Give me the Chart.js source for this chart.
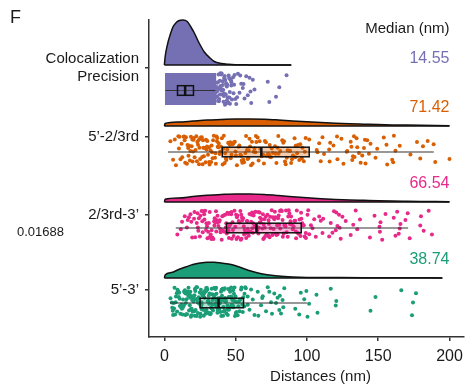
<!DOCTYPE html>
<html>
<head>
<meta charset="utf-8">
<script src="https://cdn.jsdelivr.net/npm/chart.js@4.4.1/dist/chart.umd.min.js"></script>
<style>
  html, body { margin: 0; padding: 0; background: #fff; }
</style>
</head>
<body>
<canvas id="chart" width="469" height="387"></canvas>
<script>
  'use strict';

  // ─── Data ────────────────────────────────────────────────────────────────

  const groupLabels = [['Colocalization', 'Precision'], ['5’-2/3rd'], ['2/3rd-3’'], ['5’-3’']];
  const medianLabels = ['14.55', '71.42', '66.54', '38.74'];
  const colors = ['#7570b3', '#d95f02', '#e7298a', '#1b9e77'];
  const xTicks = [0, 50, 100, 150, 200];

  // box stats in nm: [lower whisker, q1, median, q3, upper whisker]
  const boxColoc = [0.8, 9.2, 14.55, 20.4, 35.7];
  const boxFirst = [2.5, 40.6, 68, 101.6, 189];
  const boxSecond = [8, 43.6, 64.6, 96, 171];
  const boxWhole = [4, 25, 38, 55.5, 100];

  // half-violin densities (x in nm, height in axis units)
  const colocDensX = [0, 0.5, 2.4, 4, 6, 8, 10, 13, 16, 19, 21, 24, 28, 32, 35, 40, 45, 50, 60, 75, 89];
  const colocDensH = [0, 0.8, 2.2, 3.0, 3.8, 4.2, 4.42, 4.5, 4.35, 3.7, 3.2, 2.3, 1.3, 0.7, 0.35, 0.15, 0.07, 0.03, 0.01, 0, 0];
  const firstDensX = [0, 0.5, 10, 20, 30, 40, 50, 60, 70, 80, 90, 100, 110, 120, 130, 140, 150, 160, 170, 180, 190, 200];
  const firstDensH = [0, 0.25, 0.4, 0.5, 0.6, 0.65, 0.7, 0.7, 0.68, 0.6, 0.5, 0.42, 0.35, 0.28, 0.22, 0.18, 0.14, 0.11, 0.09, 0.07, 0.05, 0.03];
  const secondDensX = [0, 0.5, 10, 20, 30, 40, 50, 60, 70, 80, 90, 100, 110, 120, 130, 140, 150, 160, 170, 180, 190, 200];
  const secondDensH = [0, 0.27, 0.4, 0.55, 0.67, 0.75, 0.8, 0.8, 0.75, 0.65, 0.53, 0.42, 0.33, 0.26, 0.21, 0.17, 0.13, 0.1, 0.08, 0.06, 0.04, 0.02];
  const wholeDensX = [0, 0.5, 5, 10, 15, 20, 25, 30, 35, 40, 45, 50, 55, 60, 65, 70, 75, 80, 90, 100, 120, 140, 160, 180, 195];
  const wholeDensH = [0, 0.3, 0.55, 0.85, 1.1, 1.35, 1.5, 1.58, 1.58, 1.5, 1.4, 1.23, 0.98, 0.72, 0.52, 0.38, 0.28, 0.2, 0.11, 0.06, 0.04, 0.03, 0.03, 0.02, 0.01];

  // colocalization precision: the bulk of points forms a solid block over this range (nm)
  const colocDenseRange = [0.3, 36.5];
  // colocalization points outside the solid block (nm)
  const colocPoints = [37.5, 38.2, 39.1, 39.8, 40.6, 41.3, 42.1, 42.8, 43.6, 44.3, 45.1, 45.9, 46.7, 47.4,
    38.6, 40.2, 41.8, 43.3, 44.9, 46.2, 36.9, 39.4, 42.5, 48.2, 37.2, 40.9, 43.9,
    49.2, 52.7, 55.0, 56.2, 53.9, 57.4, 60.9, 63.2, 62.0, 58.5, 51.6, 49.8, 46.9, 60.4,
    59.7, 73.6, 72.5, 78.3, 80.6, 85.7, 50.4, 55.5, 48.5,
    34.8, 35.6, 36.3, 37.9, 38.9, 39.6, 40.1, 41.0, 41.7, 42.3, 43.0, 43.8, 44.6, 45.4,
    36.1, 37.0, 38.4, 39.3, 40.4, 41.5, 42.7, 44.0, 45.6, 47.0, 35.3, 36.6, 38.0, 39.0,
    40.7, 42.0, 46.0, 48.9, 51.0, 53.2];

  // 5'-2/3rd distances (nm)
  const firstPoints = [4.2, 12.5, 27.3, 8.1, 19.6, 33.4, 45.2, 22.8, 15.1, 38.7,
    29.5, 11.3, 52.6, 24.9, 36.1, 18.2, 61.4, 27.7, 9.8, 43.5,
    31.2, 56.8, 20.4, 14.6, 48.3, 35.5, 67.2, 25.6, 40.9, 17.3,
    73.5, 30.1, 58.4, 21.9, 84.6, 44.8, 13.9, 62.7, 37.4, 26.5,
    91.3, 50.2, 16.7, 69.8, 34.2, 78.1, 23.6, 55.4, 41.7, 88.2,
    28.9, 64.5, 19.1, 96.4, 47.6, 32.8, 75.3, 10.6, 53.9, 39.2,
    82.7, 24.3, 60.1, 46.5, 99.1, 35.8, 71.2, 17.9, 86.5, 57.3,
    30.6, 93.7, 42.3, 66.8, 21.2, 79.4, 50.9, 7.3, 63.8, 38.1,
    97.8, 26.2, 72.6, 44.1, 89.5, 33.1, 59.7, 15.8, 81.3, 49.4,
    68.3, 22.4, 94.6, 37.9, 76.2, 29.2, 54.7, 12.1, 85.9, 41.2,
    65.4, 31.7, 92.1, 47.1, 70.5, 25.1, 57.9, 19.8, 83.4, 36.6,
    98.5, 52.1, 74.1, 40.3, 90.2, 28.1, 61.9, 14.2, 80.1, 45.9,
    6.1, 34.7, 87.6, 55.9, 23.1, 77.6, 43.2, 95.3, 31.4, 63.2,
    18.6, 71.9, 49.9, 27.1, 85.1, 39.6, 58.9, 20.7, 93.1, 46.2,
    66.1, 32.3, 79.9, 53.3, 16.2, 88.9, 36.9, 74.8, 24.6, 60.8,
    101.6, 107.4, 108.6, 109.7, 110.9, 112.0, 115.6, 121.4, 118.6, 124.2,
    125.6, 128.3, 130.7, 132.3, 133.0, 131.8, 135.3, 136.5, 140.7, 137.7,
    144.6, 148.1, 149.3, 153.9, 156.3, 165.1, 172.6, 184.7, 200.0, 106.9,
    115.9, 116.3, 121.1, 127.9, 131.2, 133.4, 134.8, 138.8, 140.0, 141.1,
    142.3, 143.5, 155.8, 159.8, 161.0, 162.1, 160.5, 177.2, 181.4, 179.5,
    188.9, 190.0,
    10.2, 13.4, 16.9, 20.1, 23.9, 26.8, 29.9, 33.8, 37.1, 42.6,
    48.8, 54.3, 59.1, 64.2, 69.3, 73.9, 78.6, 83.9, 91.8, 96.9];

  // 2/3rd-3' distances (nm)
  const secondPoints = [9.1, 12.4, 15.8, 18.3, 21.6, 24.2, 26.9, 29.5, 31.8, 34.4,
    36.7, 39.1, 41.5, 43.8, 46.2, 48.6, 50.9, 53.3, 55.7, 58.1,
    60.4, 62.8, 65.2, 67.5, 69.9, 72.3, 74.6, 77.1, 79.4, 81.8,
    84.2, 86.5, 88.9, 91.3, 93.6, 96.1, 98.4, 22.7, 27.4, 33.1,
    37.9, 42.6, 47.3, 52.1, 56.8, 61.5, 66.3, 71.1, 75.8, 80.5,
    85.3, 90.1, 94.8, 19.5, 25.3, 30.7, 35.6, 40.2, 44.9, 49.7,
    54.4, 59.2, 63.9, 68.7, 73.4, 78.2, 82.9, 87.7, 92.4, 97.2,
    14.3, 23.8, 28.6, 32.5, 38.4, 43.1, 46.9, 51.6, 55.2, 58.8,
    62.3, 65.9, 69.4, 73.1, 76.6, 80.2, 83.7, 89.3, 95.5, 17.2,
    26.1, 29.9, 34.9, 39.7, 44.2, 48.1, 52.7, 57.4, 61.1, 64.6,
    68.2, 71.8, 75.3, 79.1, 83.1, 86.9, 91.7, 99.2, 20.8, 24.9,
    31.2, 36.2, 41.1, 45.6, 50.3, 54.1, 57.9, 62.1, 66.8, 70.4,
    74.2, 78.7, 84.6, 92.9, 11.5, 28.1, 33.7, 37.3, 42.1, 47.8,
    53.6, 59.7, 63.4, 67.1, 72.7, 77.5, 81.3, 88.1, 94.2, 16.4,
    23.3, 30.2, 35.1, 40.6, 45.1, 49.2, 55.9, 60.9, 65.6, 69.1,
    73.8, 79.8, 85.8, 96.7, 21.1, 32.9, 38.8, 44.5, 51.2, 57.1,
    63.1, 70.8, 76.1, 82.4, 90.6, 26.6, 36.4, 46.4, 56.3, 66.9,
    99.3, 100.4, 103.9, 105.1, 101.6, 100.9, 102.8, 106.2, 108.6, 109.7,
    110.9, 111.4, 115.6, 116.7, 119.0, 120.2, 121.4, 122.5, 123.7, 127.2,
    117.9, 120.6, 122.9, 124.9, 130.7, 132.5, 134.2, 135.3, 137.2, 144.2,
    147.4, 151.2, 151.6, 152.8, 155.1, 150.9, 160.9, 162.1, 163.3, 165.1,
    165.6, 164.4, 169.1, 170.7, 172.1, 179.5, 180.0, 181.9, 185.4, 187.7,
    18.9, 23.5, 27.9, 31.5, 35.3, 39.4, 43.4, 47.1, 50.6, 54.7,
    58.5, 62.6, 66.0, 69.7, 73.3, 77.8, 81.1, 84.9, 88.5, 92.2,
    95.9, 29.2, 37.1, 45.3, 53.9, 61.8, 70.1, 78.9, 87.2, 97.8];

  // 5'-3' distances (nm)
  const wholePoints = [4.3, 6.8, 9.2, 11.5, 13.1, 14.7, 16.2, 17.8, 19.3, 20.9,
    22.4, 23.8, 25.3, 26.7, 28.2, 29.6, 31.1, 32.5, 33.9, 35.4,
    36.8, 38.3, 39.7, 41.2, 42.6, 44.1, 45.5, 47.2, 48.8, 50.6,
    52.3, 54.1, 56.2, 58.4, 7.5, 10.4, 12.3, 15.5, 18.6, 21.7,
    24.5, 27.4, 30.3, 33.2, 36.1, 39.1, 42.1, 45.1, 48.2, 51.4,
    5.2, 8.7, 12.9, 16.9, 20.1, 23.1, 26.1, 29.1, 32.1, 35.1,
    38.1, 41.1, 44.7, 49.5, 55.3, 10.9, 14.1, 17.3, 20.5, 23.5,
    26.4, 29.3, 32.2, 35.2, 38.2, 41.7, 46.3, 53.2, 6.1, 9.8,
    13.6, 17.1, 19.8, 22.9, 25.9, 28.8, 31.6, 34.5, 37.4, 40.4,
    43.5, 47.8, 57.1, 11.9, 15.1, 18.2, 21.3, 24.2, 27.1, 30.1,
    33.6, 36.5, 39.4, 42.9, 46.8, 51.9, 8.1, 12.7, 16.4, 19.1,
    22.1, 25.1, 28.4, 31.4, 34.3, 37.2, 40.8, 44.3, 49.1, 5.9,
    10.1, 14.4, 18.9, 23.4, 27.9, 32.7, 36.3, 41.6, 47.5, 54.7,
    9.5, 15.9, 21.1, 26.2, 30.8, 35.8, 39.9, 45.8, 13.4, 24.8,
    34.1, 43.2, 50.1, 17.6, 29.8, 38.9, 20.3, 33.3, 25.6, 37.7,
    62.0, 63.2, 65.5, 67.8, 69.0, 71.3, 72.5, 74.8, 75.5, 77.1,
    79.4, 80.6, 81.0, 81.8, 82.9, 84.1, 83.4, 78.3, 73.6, 65.9,
    68.6, 59.7, 60.8, 58.5, 56.2, 55.0, 50.4, 49.2, 48.0, 46.9,
    94.6, 95.7, 91.8, 98.1, 100.4, 99.6, 101.5, 106.7, 107.4, 116.7,
    120.2, 120.6, 144.6, 148.1, 166.2, 173.7, 174.4, 176.5,
    5.5, 7.1, 8.9, 10.7, 12.1, 13.9, 15.3, 16.8, 18.4, 19.6,
    21.4, 22.6, 24.1, 25.8, 27.2, 28.6, 30.5, 31.9, 33.4, 34.8,
    36.0, 37.5, 38.6, 40.1, 41.4, 43.0, 44.5, 46.1, 47.9, 49.8,
    52.8, 56.7, 7.9, 11.2, 14.9, 18.0, 21.9, 26.9, 31.3, 36.6,
    42.3, 48.5, 6.5, 16.6, 27.6, 39.0, 45.3, 53.8];

  // vertical jitter (fraction of the cloud half-height)
  const jitter = [0.42, -0.77, 0.13, 0.91, -0.35, -0.06, 0.68, -0.92, 0.27, -0.51,
    0.84, -0.18, 0.55, -0.66, 0.02, 0.97, -0.29, 0.36, -0.84, 0.61,
    -0.45, 0.19, -0.98, 0.73, -0.12, 0.48, -0.71, 0.88, -0.24, 0.07,
    -0.59, 0.33, 0.79, -0.88, -0.03, 0.58, -0.39, 0.95, -0.63, 0.22,
    -0.16, 0.71, -0.81, 0.45, -0.49, 0.11, 0.86, -0.94, 0.31, -0.27,
    0.64, -0.56, 0.04, -0.74, 0.52, 0.93, -0.09, 0.25, -0.43, 0.81,
    -0.33, 0.16, -0.87, 0.69, -0.21, 0.39, -0.62, 0.99, -0.01, -0.79,
    0.57, 0.28, -0.53];

  // ─── Layout (vertical positions in y-axis units) ─────────────────────────

  const rowTick = [26.9, 20.0, 12.2, 4.7];
  const rowBox = [24.65, 18.5, 10.9, 3.4];
  const rowCloud = [24.8, 18.65, 11.2, 3.5];
  const rowSpread = [1.6, 1.5, 1.5, 1.5];
  const rowDens = [27.2, 21.1, 13.5, 5.9];
  const rowMedian = [27.83, 22.93, 15.37, 7.77];
  const headerY = 30.83;
  const boxHalf = 0.48;

  const FONT = '"Liberation Sans", Arial, Helvetica, sans-serif';
  const INK = '#1a1a1a';

  const boxes = [boxColoc, boxFirst, boxSecond, boxWhole];
  const densX = [colocDensX, firstDensX, secondDensX, wholeDensX];
  const densH = [colocDensH, firstDensH, secondDensH, wholeDensH];
  const clouds = [colocPoints, firstPoints, secondPoints, wholePoints];

  function withAlpha(hex, a) {
    const n = parseInt(hex.slice(1), 16);
    return 'rgba(' + (n >> 16) + ',' + ((n >> 8) & 255) + ',' + (n & 255) + ',' + a + ')';
  }

  // ─── Datasets ────────────────────────────────────────────────────────────

  const datasets = [];

  for (let g = 0; g < 4; g++) {
    const base = rowDens[g];
    const xs = densX[g];
    datasets.push({
      type: 'line',
      data: xs.map(function (v, i) { return { x: v, y: base + densH[g][i] }; }),
      borderColor: '#111',
      borderWidth: 1.5,
      backgroundColor: colors[g],
      fill: { value: base },
      pointRadius: 0,
      cubicInterpolationMode: 'monotone',
      clip: false,
      order: 6,
    });
    datasets.push({
      type: 'line',
      data: [{ x: xs[0], y: base }, { x: xs[xs.length - 1], y: base }],
      borderColor: '#111',
      borderWidth: 1.5,
      pointRadius: 0,
      fill: false,
      order: 5,
    });
  }

  // solid block of overlapping colocalization points
  datasets.push({
    type: 'line',
    data: [
      { x: colocDenseRange[0], y: rowCloud[0] + rowSpread[0] },
      { x: colocDenseRange[1], y: rowCloud[0] + rowSpread[0] },
    ],
    fill: { value: rowCloud[0] - rowSpread[0] },
    backgroundColor: colors[0],
    borderWidth: 0,
    pointRadius: 0,
    order: 4,
  });

  for (let g = 0; g < 4; g++) {
    const shift = g * 19;
    datasets.push({
      type: 'scatter',
      data: clouds[g].map(function (v, i) {
        return { x: v, y: rowCloud[g] + jitter[(i + shift) % jitter.length] * rowSpread[g] };
      }),
      backgroundColor: colors[g],
      borderWidth: 0,
      pointRadius: 2,
      order: 1,
    });
  }

  // ─── Plugins ─────────────────────────────────────────────────────────────

  const boxPlugin = {
    id: 'boxes',
    afterDatasetsDraw: function (chart) {
      const ctx = chart.ctx;
      const x = chart.scales.x;
      const y = chart.scales.y;
      boxes.forEach(function (b, g) {
        const yc = y.getPixelForValue(rowBox[g]);
        const h = y.getPixelForValue(rowBox[g] - boxHalf) - yc;
        const px = b.map(function (v) { return x.getPixelForValue(v); });
        ctx.save();
        ctx.strokeStyle = '#333';
        ctx.lineWidth = 1.1;
        ctx.beginPath();
        ctx.moveTo(px[0], yc);
        ctx.lineTo(px[4], yc);
        ctx.stroke();
        ctx.fillStyle = withAlpha(colors[g], 0.32);
        ctx.fillRect(px[1], yc - h, px[3] - px[1], 2 * h);
        ctx.strokeStyle = '#111';
        ctx.lineWidth = 1.5;
        ctx.strokeRect(px[1], yc - h, px[3] - px[1], 2 * h);
        ctx.lineWidth = 2.5;
        ctx.beginPath();
        ctx.moveTo(px[2], yc - h);
        ctx.lineTo(px[2], yc + h);
        ctx.stroke();
        ctx.restore();
      });
    },
  };

  const textPlugin = {
    id: 'texts',
    afterDraw: function (chart) {
      const ctx = chart.ctx;
      const x = chart.scales.x;
      const y = chart.scales.y;
      ctx.save();
      ctx.textBaseline = 'middle';
      ctx.fillStyle = INK;
      ctx.textAlign = 'left';
      ctx.font = '18px ' + FONT;
      ctx.fillText('F', 10, 18);
      ctx.font = '13px ' + FONT;
      ctx.fillText('0.01688', 17, 232);

      const rx = x.getPixelForValue(200);
      ctx.textAlign = 'right';
      ctx.font = '15px ' + FONT;
      ctx.fillText('Median (nm)', rx, y.getPixelForValue(headerY));
      ctx.font = '16px ' + FONT;
      medianLabels.forEach(function (t, g) {
        ctx.fillStyle = colors[g];
        ctx.fillText(t, rx, y.getPixelForValue(rowMedian[g]));
      });

      ctx.textAlign = 'center';
      ctx.fillStyle = INK;
      ctx.font = '15px ' + FONT;
      ctx.fillText('Distances (nm)', x.getPixelForValue(109.5), 377);
      ctx.restore();
    },
  };

  // ─── Chart ───────────────────────────────────────────────────────────────

  new Chart(document.getElementById('chart'), {
    type: 'scatter',
    data: { datasets: datasets },
    plugins: [boxPlugin, textPlugin],
    options: {
      responsive: false,
      animation: false,
      events: [],
      layout: { padding: { top: 20, right: 4, left: 0, bottom: 0 } },
      plugins: { legend: { display: false }, tooltip: { enabled: false } },
      scales: {
        x: {
          type: 'linear',
          min: -10.8,
          max: 209.8,
          afterBuildTicks: function (s) { s.ticks = xTicks.map(function (v) { return { value: v }; }); },
          afterFit: function (s) { s.height = 50; },
          ticks: { autoSkip: false, maxRotation: 0, padding: 6, color: INK, font: { family: FONT, size: 16 } },
          grid: { drawOnChartArea: false, tickLength: 4, color: '#333', lineWidth: 1.5 },
          border: { color: '#333', width: 1.5 },
        },
        y: {
          type: 'linear',
          min: 0,
          max: 31.7,
          afterBuildTicks: function (s) { s.ticks = rowTick.map(function (v) { return { value: v }; }); },
          afterFit: function (s) { s.width = 149; },
          ticks: {
            autoSkip: false,
            padding: 6,
            color: INK,
            font: { family: FONT, size: 15 },
            callback: function (v) {
              const i = rowTick.indexOf(v);
              return i < 0 ? '' : groupLabels[i];
            },
          },
          grid: { drawOnChartArea: false, tickLength: 4, color: '#333', lineWidth: 1.5 },
          border: { color: '#333', width: 1.5 },
        },
      },
    },
  });
</script>
</body>
</html>
